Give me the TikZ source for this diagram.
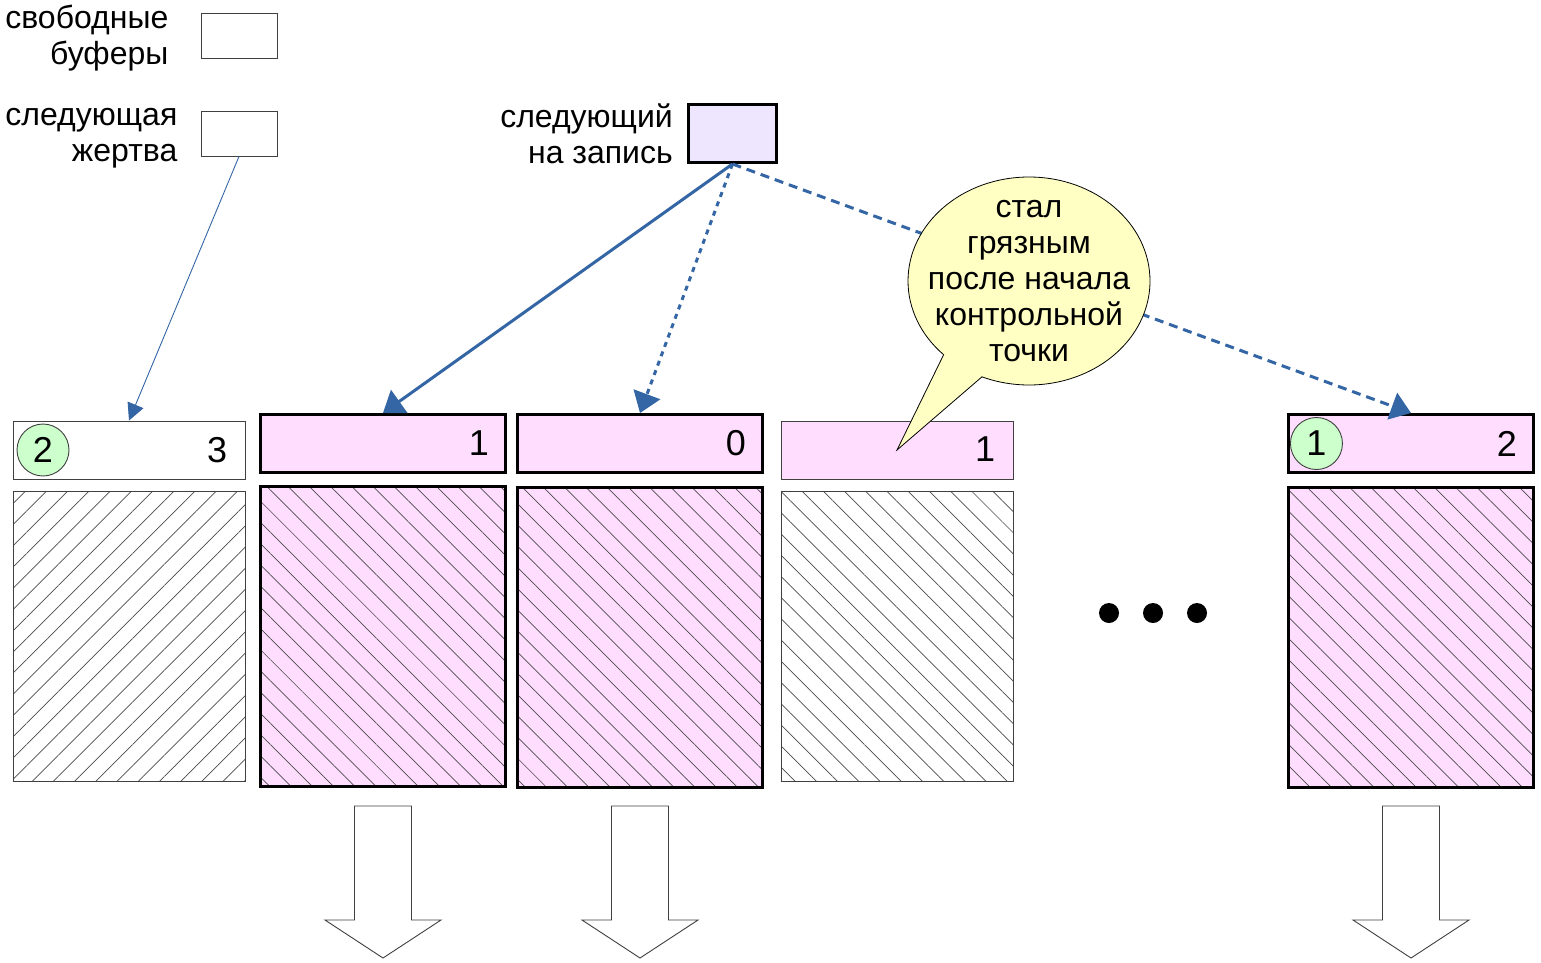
\documentclass[tikz,border=0pt]{standalone}
\usepackage{fontspec}
\setmainfont{Liberation Sans}
\usetikzlibrary{positioning,arrows.meta,patterns.meta,shapes.callouts}
\definecolor{dirty}{HTML}{FFDDFF}
\definecolor{nextfill}{HTML}{EEE6FF}
\definecolor{usage}{HTML}{CCFFCC}
\definecolor{note}{HTML}{FFFFC4}
\definecolor{link}{HTML}{3465A4}
\tikzset{
  thin box/.style  = {draw=black!75, line width=0.9pt, inner sep=0pt},
  thick box/.style = {draw=black, line width=3pt, inner sep=0pt},
  head/.style      = {minimum width=232pt, minimum height=58pt},
  thead/.style     = {minimum width=245pt, minimum height=58pt},
  body/.style      = {minimum width=232pt, minimum height=290pt},
  tbody/.style     = {minimum width=245pt, minimum height=300pt},
  hatch ne/.style  = {pattern={Lines[angle=45, distance=15pt, line width=0.7pt]},
                      pattern color=black!70},
  hatch nw/.style  = {pattern={Lines[angle=-45, distance=15pt, line width=0.7pt]},
                      pattern color=black!70},
  cnt/.style       = {circle, draw=black!75, line width=0.9pt, fill=usage,
                      minimum size=52pt, inner sep=0pt, font=\fontsize{36}{36}\selectfont},
  num/.style       = {inner sep=0pt, font=\fontsize{36}{36}\selectfont},
  lbl/.style       = {align=right, inner sep=0pt},
  ptr/.style       = {draw=link, -{Triangle[length=20pt, width=28pt]}, line width=3pt},
}
\begin{document}
\begin{tikzpicture}[x=1pt, y=-1pt, font=\fontsize{32}{36}\selectfont]
  \useasboundingbox (0,0) rectangle (1541,962);
  % legend
  \node [thin box, minimum width=76pt, minimum height=45pt] (free)   at (239,35.5)  {};
  \node [lbl, left=32pt of free, yshift=-3pt]   {свободные\\буферы};
  \node [thin box, minimum width=76pt, minimum height=45pt] (victim) at (239,133.5) {};
  \node [lbl, left=23pt of victim, yshift=-5pt] {следующая\\жертва};
  \node [thick box, fill=nextfill, minimum width=88pt, minimum height=58pt] (next) at (732.5,133.5) {};
  \node [lbl, left=14pt of next]   {следующий\\на запись};
  % buffers
  \node [thin box, head, fill=white]   (h1) at (129,450)    {};
  \node [thin box, body, below=12pt of h1, preaction={fill=white}, hatch ne] (b1) {};
  \node [thick box, thead, fill=dirty] (h2) at (383,443.5)  {};
  \node [thick box, tbody, below=12pt of h2, preaction={fill=dirty}, hatch nw] (b2) {};
  \node [thick box, thead, fill=dirty] (h3) at (640,443.5)  {};
  \node [thick box, tbody, below=12pt of h3, preaction={fill=dirty}, hatch nw] (b3) {};
  \node [thin box, head, fill=dirty]   (h4) at (897,450)    {};
  \node [thin box, body, below=12pt of h4, preaction={fill=white}, hatch nw] (b4) {};
  \node [thick box, thead, fill=dirty] (h5) at (1411,443.5) {};
  \node [thick box, tbody, below=12pt of h5, preaction={fill=dirty}, hatch nw] (b5) {};
  \node [num, left=18pt of h1.east] {3};
  \node [num, left=18pt of h2.east] {1};
  \node [num, left=18pt of h3.east] {0};
  \node [num, left=18pt of h4.east, yshift=1pt] {1};
  \node [num, left=18pt of h5.east] {2};
  \node [cnt, right=4pt of h1.west] {2};
  \node [cnt, right=3pt of h5.west] {1};
  % pointers
  \draw [ptr, line width=0.9pt, -{Triangle[length=17pt, width=17pt]}] (victim.south) -- (h1.north);
  \draw [ptr] (next.south) -- (h2.north);
  \draw [ptr, dash pattern=on 5pt off 5pt] (next.south) -- (h3.north);
  \draw [ptr, dash pattern=on 9pt off 6pt] (next.south) -- (h5.north);
  \node [ellipse callout, draw=black, line width=0.8pt, fill=note, align=center,
         minimum width=242pt, minimum height=208pt, inner xsep=-16pt, inner ysep=-15pt,
         callout absolute pointer={(h4.center)}, callout pointer arc=22] (remark) at (1029,281)
        {стал\\грязным\\после начала\\контрольной\\точки};
  % more buffers
  \foreach \x in {1109,1153,1197}
    \fill (\x,613) circle [radius=10pt];
  % written to disk
  \foreach \x in {383,640,1411}
    \draw [black!75, line width=0.9pt, fill=white]
      (\x-28.5,806) -- (\x+28.5,806) -- (\x+28.5,920) -- (\x+58,920)
      -- (\x,958) -- (\x-58,920) -- (\x-28.5,920) -- cycle;
\end{tikzpicture}
\end{document}
